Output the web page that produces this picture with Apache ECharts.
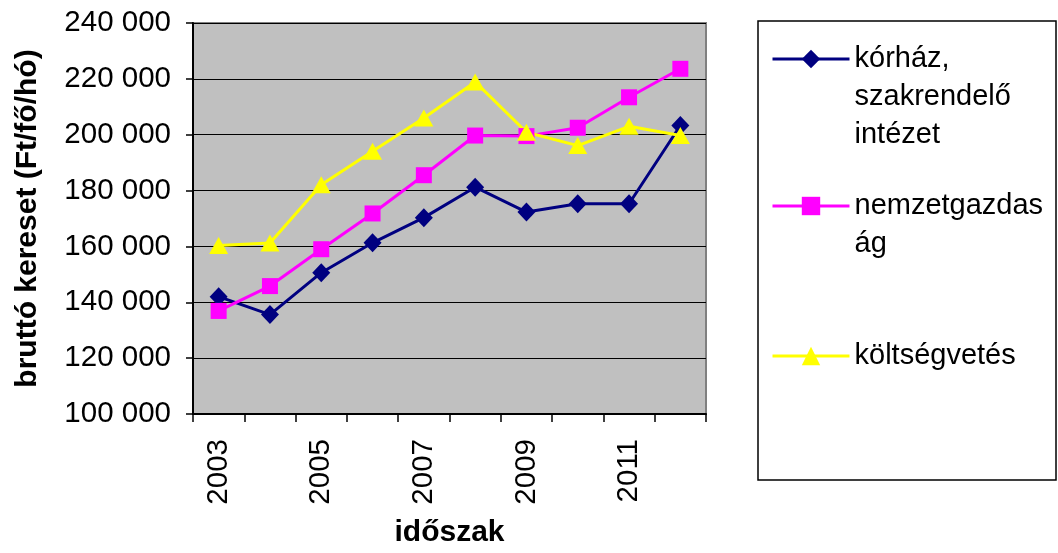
<!DOCTYPE html>
<html>
<head>
<meta charset="utf-8">
<script src="https://cdn.jsdelivr.net/npm/echarts@6/dist/echarts.min.js"></script>
<style>
html,body{margin:0;padding:0;background:#fff;}
#chart{width:1058px;height:553px;}
</style>
</head>
<body>
<div id="chart"></div>
<script>
const years = ['2003','2004','2005','2006','2007','2008','2009','2010','2011','2012'];
const korhaz = [142000, 135600, 150600, 161300, 170300, 181200, 172300, 175300, 175300, 203300];
const nemzetgazdasag = [136900, 145800, 159000, 171800, 185500, 199700, 199500, 202500, 213400, 223600];
const koltsegvetes = [160300, 161200, 182100, 194100, 206000, 218900, 200900, 196100, 203000, 199700];
const yTicks = [100000, 120000, 140000, 160000, 180000, 200000, 220000, 240000];
const seriesNames = ['kórház, szakrendelő intézet', 'nemzetgazdaság', 'költségvetés'];
const legendLines = [['kórház,', 'szakrendelő', 'intézet'], ['nemzetgazdas', 'ág'], ['költségvetés']];

const FONT = '"Liberation Sans", Arial, sans-serif';
const chart = echarts.init(document.getElementById('chart'), null, {renderer: 'canvas'});

function fmt(v) {
  return String(v).replace(/\B(?=(\d{3})+(?!\d))/g, ' ');
}

const LH = 38;
// icon centre y for each legend entry
const iconY = [59, 206, 356];
function legendFor(i) {
  const lines = legendLines[i];
  const pad = lines.length - 1;
  const text = '\n'.repeat(pad) + lines.join('\n');
  const total = lines.length + pad;
  return {
    show: true,
    data: [seriesNames[i]],
    orient: 'vertical',
    left: 771,
    top: iconY[i] - total * LH / 2,
    padding: 0,
    itemWidth: 77,
    itemHeight: 23,
    itemGap: 0,
    selectedMode: false,
    lineStyle: {width: 3},
    formatter: function () { return text; },
    textStyle: {
      fontFamily: FONT,
      fontSize: 29,
      color: '#000',
      lineHeight: LH
    }
  };
}

const option = {
  backgroundColor: '#fff',
  animation: false,
  grid: {
    left: 193, right: 352, top: 23, bottom: 139,
    show: true,
    backgroundColor: '#C0C0C0',
    borderColor: '#808080',
    borderWidth: 2
  },
  graphic: [{
    type: 'rect',
    shape: {x: 758, y: 21, width: 298, height: 459},
    style: {fill: 'none', stroke: '#000', lineWidth: 1.5},
    z: -1
  }],
  legend: [legendFor(0), legendFor(1), legendFor(2)],
  xAxis: {
    type: 'category',
    data: years,
    boundaryGap: true,
    name: 'időszak',
    nameLocation: 'middle',
    nameGap: 104,
    nameTextStyle: {fontFamily: FONT, fontSize: 30, fontWeight: 'bold', color: '#000'},
    axisLine: {lineStyle: {color: '#000', width: 2}},
    axisTick: {show: true, interval: 0, length: 8, lineStyle: {color: '#000', width: 1.5}},
    axisLabel: {interval: 1, rotate: 90, margin: 25, fontFamily: FONT, fontSize: 29.5, color: '#000'},
    splitLine: {show: false}
  },
  yAxis: {
    type: 'value',
    min: yTicks[0],
    max: yTicks[yTicks.length - 1],
    interval: yTicks[1] - yTicks[0],
    name: 'bruttó kereset (Ft/fő/hó)',
    nameLocation: 'middle',
    nameRotate: 90,
    nameGap: 150,
    nameTextStyle: {fontFamily: FONT, fontSize: 30, fontWeight: 'bold', color: '#000'},
    axisLine: {show: true, lineStyle: {color: '#000', width: 2}},
    axisTick: {show: true, length: 7, lineStyle: {color: '#000', width: 1.5}},
    axisLabel: {margin: 22, fontFamily: FONT, fontSize: 29.5, color: '#000', formatter: fmt},
    splitLine: {show: true, lineStyle: {color: '#000', width: 1.2}}
  },
  series: [
    {
      name: seriesNames[0], type: 'line', data: korhaz,
      symbol: 'diamond', symbolSize: [18, 19],
      lineStyle: {color: '#000080', width: 3},
      itemStyle: {color: '#000080'}
    },
    {
      name: seriesNames[1], type: 'line', data: nemzetgazdasag,
      symbol: 'rect', symbolSize: 16,
      lineStyle: {color: '#FF00FF', width: 3},
      itemStyle: {color: '#FF00FF'}
    },
    {
      name: seriesNames[2], type: 'line', data: koltsegvetes,
      symbol: 'triangle', symbolSize: [19, 17],
      lineStyle: {color: '#FFFF00', width: 3},
      itemStyle: {color: '#FFFF00'}
    }
  ]
};
chart.setOption(option);
</script>
</body>
</html>
